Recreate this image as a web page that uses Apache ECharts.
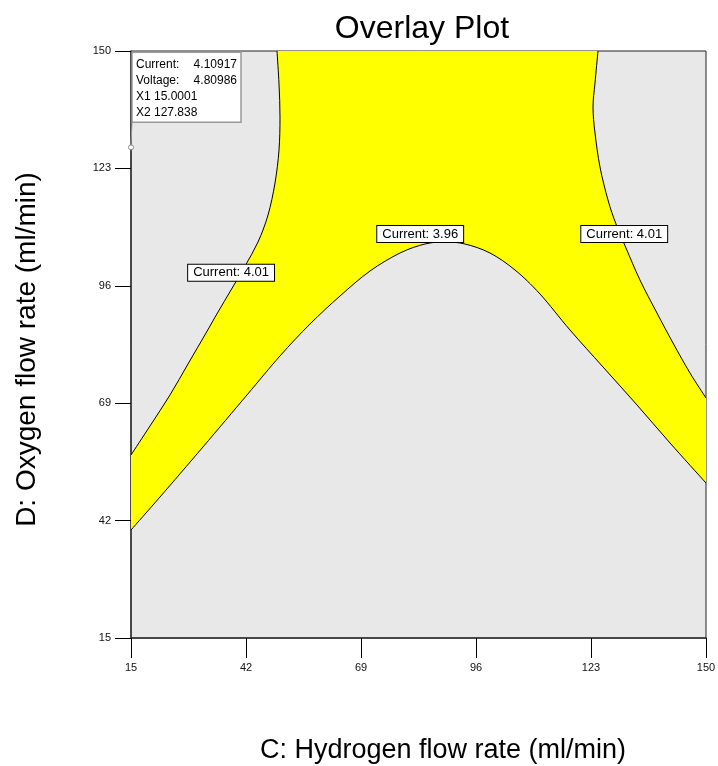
<!DOCTYPE html>
<html>
<head>
<meta charset="utf-8">
<script src="https://cdn.jsdelivr.net/npm/echarts@6/dist/echarts.min.js"></script>
<style>
  html, body { margin: 0; padding: 0; background: #fff; }
  #chart { width: 718px; height: 766px; }
</style>
</head>
<body>
<div id="chart"></div>
<script>
// Axis ticks (both factors share the same range)
const xTicks = [15, 42, 69, 96, 123, 150];
const yTicks = [15, 42, 69, 96, 123, 150];

// Contour "Current = 4.01" (left branch), listed top to bottom
const leftX = [49.28, 49.75, 49.98, 49.75, 48.81, 47.17, 44.82, 41.77, 38.48, 35.43, 32.61, 28.38, 24.16, 19.46, 15];
const leftY = [150, 142.41, 134.82, 127.23, 119.64, 112.28, 106.07, 100.55, 95.03, 89.97, 85.14, 78.02, 70.89, 63.76, 57.09];

// Contour "Current = 3.96", listed left to right
const botX = [15, 21.81, 31.90, 42.23, 49.98, 57.03, 64.07, 71.11, 78.16, 84.03, 88.72, 93.42, 99.29, 105.16, 111.03, 118.07, 125.82, 133.80, 141.55, 150];
const botY = [39.84, 47.43, 58.93, 70.89, 79.86, 87.21, 93.65, 99.40, 103.54, 105.61, 106.07, 105.61, 103.54, 99.63, 94.11, 85.83, 77.33, 68.59, 59.85, 50.65];

// Contour "Current = 4.01" (right branch), listed top to bottom
const rightX = [124.64, 123.94, 123.47, 123.94, 125.11, 126.99, 128.87, 131.22, 134.50, 138.49, 142.25, 146.24, 150];
const rightY = [150, 142.64, 137.12, 131.14, 123.32, 115.73, 110.21, 104.69, 97.33, 89.74, 82.85, 75.95, 70.20];

// Contour labels and where they sit
const labelText = ['Current: 4.01', 'Current: 3.96', 'Current: 4.01'];
const labelX = [38.5, 82.9, 130.8];
const labelY = [99.0, 107.9, 107.9];

// Flagged point and its readout
const flagX = 15.0001;
const flagY = 127.838;
const flagNames = ['Current:', 'Voltage:', 'X1', 'X2'];
const flagValues = ['4.10917', '4.80986', '15.0001', '127.838'];

const FONT = '"Liberation Sans", Arial, sans-serif';

function zip(xs, ys) { return xs.map((x, i) => [x, ys[i]]); }

const leftPts = zip(leftX, leftY);
const botPts = zip(botX, botY);
const rightPts = zip(rightX, rightY);

// Catmull-Rom spline through pixel points, as SVG cubic segments
function splineSegs(p) {
  let s = '';
  for (let i = 0; i < p.length - 1; i++) {
    const p0 = p[Math.max(i - 1, 0)], p1 = p[i], p2 = p[i + 1], p3 = p[Math.min(i + 2, p.length - 1)];
    const c1 = [p1[0] + (p2[0] - p0[0]) / 6, p1[1] + (p2[1] - p0[1]) / 6];
    const c2 = [p2[0] - (p3[0] - p1[0]) / 6, p2[1] - (p3[1] - p1[1]) / 6];
    s += ' C' + c1[0].toFixed(2) + ',' + c1[1].toFixed(2) + ' ' + c2[0].toFixed(2) + ',' + c2[1].toFixed(2) + ' ' + p2[0].toFixed(2) + ',' + p2[1].toFixed(2);
  }
  return s;
}
function moveTo(p) { return 'M' + p[0].toFixed(2) + ',' + p[1].toFixed(2); }
function lineTo(p) { return ' L' + p[0].toFixed(2) + ',' + p[1].toFixed(2); }

const chart = echarts.init(document.getElementById('chart'));

chart.setOption({
  animation: false,
  title: {
    text: 'Overlay Plot',
    left: 417, top: 8,
    textAlign: 'center',
    textStyle: { fontFamily: FONT, fontSize: 32, fontWeight: 'normal', color: '#000' }
  },
  grid: {
    left: 131, top: 51, width: 575, height: 587,
    outerBoundsMode: 'none', containLabel: false,
    show: true, backgroundColor: '#e8e8e8', borderColor: '#222', borderWidth: 1
  },
  xAxis: {
    type: 'value', min: 15, max: 150,
    name: 'C: Hydrogen flow rate (ml/min)',
    nameLocation: 'middle', nameGap: 99,
    nameTextStyle: { fontFamily: FONT, fontSize: 27, color: '#000', padding: [0, 0, 0, 49] },
    axisLine: { show: true, lineStyle: { color: '#333', width: 1.5 } },
    axisTick: { show: true, length: 20, customValues: xTicks, lineStyle: { color: '#000' } },
    axisLabel: { customValues: xTicks, margin: 24, fontFamily: FONT, fontSize: 11, color: '#111' },
    splitLine: { show: false }
  },
  yAxis: {
    type: 'value', min: 15, max: 150,
    name: 'D: Oxygen flow rate (ml/min)',
    nameLocation: 'middle', nameGap: 90, nameRotate: 90,
    nameTextStyle: { fontFamily: FONT, fontSize: 28, color: '#000', padding: [0, 10, 0, 0] },
    axisLine: { show: true, lineStyle: { color: '#333', width: 1.5 } },
    axisTick: { show: true, length: 16, customValues: yTicks, lineStyle: { color: '#000' } },
    axisLabel: { customValues: yTicks, margin: 20, fontFamily: FONT, fontSize: 11, color: '#111' },
    splitLine: { show: false }
  },
  series: [
    {
      // Feasible region and its three bounding contours
      type: 'custom',
      silent: true,
      z: 2,
      clip: true,
      data: [0],
      renderItem: function (params, api) {
        const L = leftPts.map(p => api.coord(p));
        const B = botPts.map(p => api.coord(p));
        const R = rightPts.map(p => api.coord(p)).reverse();
        const region = moveTo(L[0]) + splineSegs(L) + lineTo(B[0]) + splineSegs(B) +
          lineTo(R[0]) + splineSegs(R) + ' Z';
        const stroke = pts => ({
          type: 'path',
          shape: { pathData: moveTo(pts[0]) + splineSegs(pts) },
          style: { fill: 'none', stroke: '#000', lineWidth: 1 }
        });
        return {
          type: 'group',
          children: [
            { type: 'path', shape: { pathData: region }, style: { fill: '#ffff00', stroke: 'none' } },
            stroke(L), stroke(B), stroke(R)
          ]
        };
      }
    },
    {
      type: 'scatter',
      silent: true,
      z: 6,
      symbolSize: 0,
      itemStyle: { opacity: 1 },
      data: labelX.map((x, i) => ({ value: [x, labelY[i]], name: labelText[i] })),
      label: {
        show: true, position: 'inside', opacity: 1,
        formatter: p => p.name,
        fontFamily: FONT, fontSize: 13, color: '#000',
        backgroundColor: '#fff', borderColor: '#000', borderWidth: 1,
        padding: [2, 5, 1, 5]
      }
    },
    {
      type: 'scatter',
      silent: true,
      z: 7,
      symbol: 'circle',
      symbolSize: 5,
      itemStyle: { color: '#fff', borderColor: '#888', borderWidth: 1, opacity: 1 },
      data: [[flagX, flagY]]
    }
  ]
});

// Readout box attached to the flagged point
const fp = chart.convertToPixel({ gridIndex: 0 }, [flagX, flagY]);
const boxLeft = fp[0] + 1, boxTop = fp[1] - 95, boxW = 109, boxH = 70;
const readout = [
  { type: 'line', shape: { x1: boxLeft, y1: boxTop + boxH, x2: fp[0], y2: fp[1] - 3 },
    style: { stroke: '#999', lineWidth: 1 }, z: 20 },
  { type: 'rect', shape: { x: boxLeft, y: boxTop, width: boxW, height: boxH },
    style: { fill: '#fff', stroke: '#999', lineWidth: 1.5 }, z: 20 }
];
flagNames.forEach((n, i) => {
  const y = boxTop + 12 + i * 16;
  const twoCol = i < 2;
  readout.push({
    type: 'text', z: 21,
    style: { text: n, x: boxLeft + 4, y: y, textVerticalAlign: 'middle',
      font: '12px ' + FONT, fill: '#000' }
  });
  readout.push({
    type: 'text', z: 21,
    style: twoCol
      ? { text: flagValues[i], x: boxLeft + boxW - 4, y: y, textAlign: 'right', textVerticalAlign: 'middle', font: '12px ' + FONT, fill: '#000' }
      : { text: flagValues[i], x: boxLeft + 22, y: y, textVerticalAlign: 'middle', font: '12px ' + FONT, fill: '#000' }
  });
});
chart.setOption({ graphic: readout });
</script>
</body>
</html>
